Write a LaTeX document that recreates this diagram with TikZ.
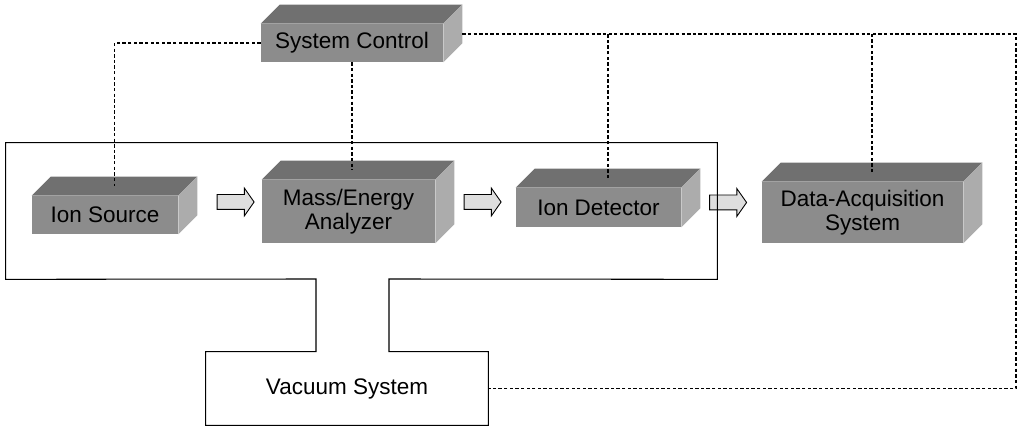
\documentclass[tikz,border=0pt]{standalone}
\usepackage{fontspec}
\setmainfont{Liberation Sans}
\usetikzlibrary{shapes,arrows,calc}
\definecolor{frontgray}{RGB}{140,140,140}
\definecolor{topgray}{RGB}{112,112,112}
\definecolor{sidegray}{RGB}{172,172,172}
\definecolor{arrowgray}{RGB}{222,222,222}
\tikzset{%
	block/.style    = {rectangle, fill=frontgray, align=center, inner sep=0pt,
		font=\fontsize{12.8}{13.5}\selectfont},
	pump/.style     = {rectangle, align=center, inner sep=0pt,
		font=\fontsize{12.8}{13.5}\selectfont},
	flow/.style     = {single arrow, draw, fill=arrowgray, line width=0.5pt,
		inner sep=0.14cm, minimum height=0.74cm, single arrow head extend=0.13cm,
		single arrow tip angle=110}, % hollow arrow
	ctrl/.style     = {line width=0.6pt, dash pattern=on 1.9pt off 1.3pt}, % control line
	wall/.style     = {line width=0.6pt} % chamber outline
}
% top and right faces of a box, plus the middle of its top face
\newcommand{\slab}[1]{%
	\fill[topgray] (#1.north west) -- ++(19,-19) -- ($(#1.north east)+(19,-19)$) -- (#1.north east) -- cycle;
	\fill[sidegray] (#1.north east) -- ++(19,-19) -- ($(#1.south east)+(19,-19)$) -- (#1.south east) -- cycle;
	\coordinate (#1-top) at ($(#1.north)+(9.5,-9.5)$);
}

\begin{document}
\begin{tikzpicture}[x=0.02cm,y=-0.02cm]
			\useasboundingbox (0,0) rectangle (1019,428);

			\node[block, minimum width=3.64cm, minimum height=0.76cm] (sc)  at (352,43)      {System Control};
			\node[block, minimum width=2.92cm, minimum height=0.76cm] (src) at (105,215)     {Ion Source};
			\node[block, minimum width=3.46cm, minimum height=1.26cm] (mass) at (348.5,211.5) {Mass/Energy\\Analyzer};
			\node[block, minimum width=3.30cm, minimum height=0.78cm] (det) at (598.5,207.5) {Ion Detector};
			\node[block, minimum width=4.02cm, minimum height=1.22cm] (dat) at (862.5,212.5) {Data-Acquisition\\System};
			\slab{sc} \slab{src} \slab{mass} \slab{det} \slab{dat}

			\node[flow] (a1) at (233,202) {};
			\node[flow] (a2) at (480,202) {};
			\node[flow] (a3) at (725.5,202.5) {};

			% chamber and vacuum system
			\node[pump, minimum width=14.22cm, minimum height=2.72cm] (chamber) at (361.5,211) {};
			\node[pump, minimum width=5.64cm, minimum height=1.46cm] (vac) at (347,388.5) {Vacuum System};
			\coordinate (neckL) at (316,279);
			\coordinate (neckR) at (389,279);
			\draw[wall] (vac.north west) -- (vac.south west) -- (vac.south east) -- (vac.north east)
				-- (vac.north east -| neckR) -- (neckR) -- (chamber.south east) -- (chamber.north east)
				-- (chamber.north west) -- (chamber.south west) -- (neckL) -- (vac.north west -| neckL) -- cycle;

			% control lines
			\coordinate (busR) at (1016,34);
			\draw[ctrl] (sc.west) -| (src-top);
			\draw[ctrl] (sc.south) -- (sc.south |- mass-top);
			\draw[ctrl] ($(sc.east)+(19,-9)$) -- (busR) |- (vac.east);
			\draw[ctrl] (det-top) -- (det-top |- busR);
			\draw[ctrl] (dat-top) -- (dat-top |- busR);
		\end{tikzpicture}
\end{document}
